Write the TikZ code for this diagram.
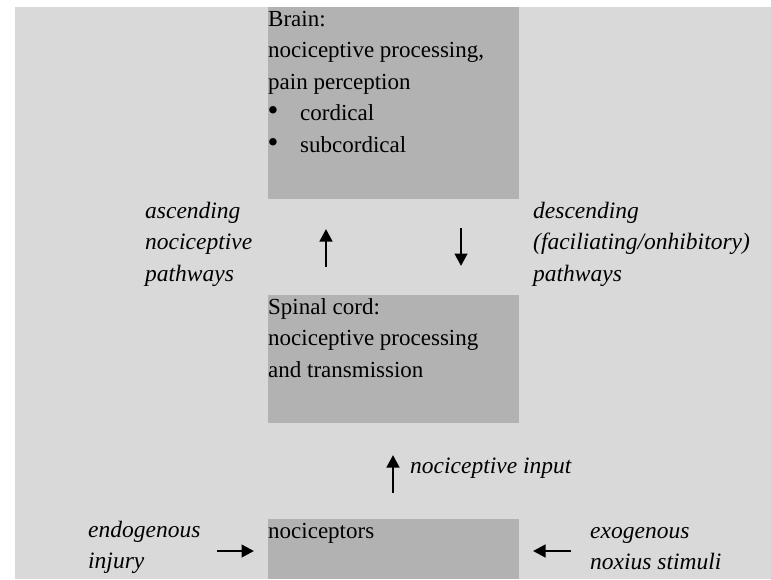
\documentclass[tikz,border=0pt]{standalone}
\usepackage{fontspec}
\setmainfont{Liberation Serif}
\usetikzlibrary{arrows.meta}
\definecolor{bggray}{HTML}{D9D9D9}
\definecolor{boxgray}{HTML}{B2B2B2}
\newcommand{\txtlines}[1]{\begin{tabular}[t]{@{}l@{}}#1\end{tabular}}
\newcommand{\bul}{\makebox[32pt][l]{\hspace*{-0.5pt}\scalebox{1.35}{•}}}
\begin{document}
\begin{tikzpicture}[x=1pt,y=-1pt,
  box/.style={fill=boxgray, draw=none, inner sep=0pt, outer sep=0pt, anchor=north west},
  txt/.style={inner sep=0pt, anchor=base west, font=\fontsize{23}{31.5}\selectfont},
  itxt/.style={inner sep=0pt, anchor=base west, font=\fontsize{23.5}{31.5}\selectfont\itshape},
  arr/.style={-{Triangle[length=12.5pt,width=12.5pt]}, line width=2.8pt}]
\useasboundingbox (0,0) rectangle (771,579);
\fill[bggray] (15,7) rectangle (771,579);
% boxes
\node[box, minimum width=251pt, minimum height=192pt] (brain) at (268,7) {};
\node[box, minimum width=251pt, minimum height=128pt] (spinal) at (268,295) {};
\node[box, minimum width=251pt, minimum height=60pt] (noci) at (268,519) {};
% box texts
\node[txt] (braintxt) at (268,26) {\txtlines{Brain:\\nociceptive processing,\\pain perception\\\bul cordical\\\bul subcordical}};
\node[txt] (spinaltxt) at (268,314) {\txtlines{Spinal cord:\\nociceptive processing\\and transmission}};
\node[txt] (nocitxt) at (268,538) {nociceptors};
% side labels
\node[itxt] (asc) at (145,218) {\txtlines{ascending\\nociceptive\\pathways}};
\node[itxt] (desc) at (533,218) {\txtlines{descending\\(faciliating/onhibitory)\\pathways}};
\node[itxt] (input) at (410,473) {nociceptive input};
\node[itxt] (endo) at (88,537) {\txtlines{endogenous\\injury}};
\node[itxt] (exo) at (590,538) {\txtlines{exogenous\\noxius stimuli}};
% arrows
\coordinate (a1s) at (326,267); \coordinate (a1e) at (326,229);
\coordinate (a2s) at (461,228); \coordinate (a2e) at (461,266);
\coordinate (a3s) at (393,493); \coordinate (a3e) at (393,455);
\coordinate (a4s) at (217,551); \coordinate (a4e) at (254,551);
\coordinate (a5s) at (571,551); \coordinate (a5e) at (533,551);
\draw[arr] (a1s) -- (a1e);
\draw[arr] (a2s) -- (a2e);
\draw[arr] (a3s) -- (a3e);
\draw[arr] (a4s) -- (a4e);
\draw[arr] (a5s) -- (a5e);
\end{tikzpicture}
\end{document}
